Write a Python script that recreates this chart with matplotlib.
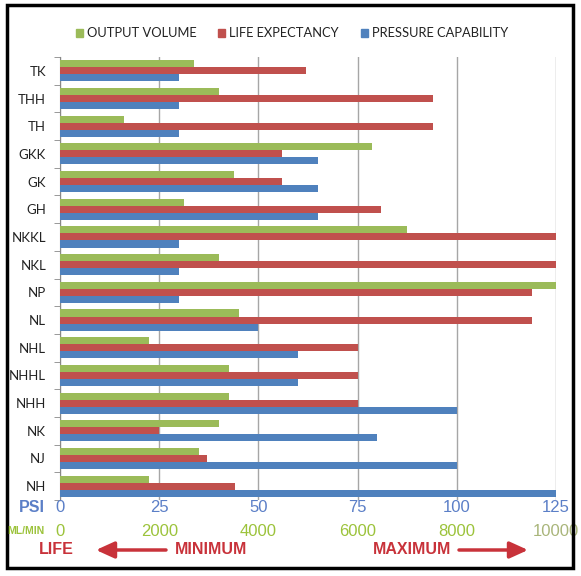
import matplotlib.pyplot as plt
from matplotlib.patches import Rectangle
from matplotlib.transforms import blended_transform_factory

# pump series, top to bottom as in the chart
categories = ['TK', 'THH', 'TH', 'GKK', 'GK', 'GH', 'NKKL', 'NKL',
              'NP', 'NL', 'NHL', 'NHHL', 'NHH', 'NK', 'NJ', 'NH']
pressure_psi = [30, 30, 30, 65, 65, 65, 30, 30, 30, 50, 60, 60, 100, 80, 100, 125]
life_score = [62, 94, 94, 56, 56, 81, 125, 125, 119, 119, 75, 75, 75, 25, 37, 44]
output_ml_min = [2700, 3200, 1300, 6300, 3500, 2500, 7000, 3200,
                 10000, 3600, 1800, 3400, 3400, 3200, 2800, 1800]

psi_ticks = [0, 25, 50, 75, 100, 125]
ml_ticks = [0, 2000, 4000, 6000, 8000, 10000]
legend_labels = ['OUTPUT VOLUME', 'LIFE EXPECTANCY', 'PRESSURE CAPABILITY']

GREEN = '#9BBB59'
RED = '#C0504D'
BLUE = '#4F81BD'
ML_PER_PSI = ml_ticks[-1] / psi_ticks[-1]

W, H = 581, 576
fig = plt.figure(figsize=(W / 100, H / 100), dpi=100)
ax = fig.add_axes([60 / W, 1 - 500 / H, 496 / W, 443 / H])

ypos = list(range(len(categories)))
bh = 0.255
out_scaled = [v / ML_PER_PSI for v in output_ml_min]
ax.barh([y - bh for y in ypos], out_scaled, height=bh, color=GREEN, zorder=3)
ax.barh(ypos, life_score, height=bh, color=RED, zorder=3)
ax.barh([y + bh for y in ypos], pressure_psi, height=bh, color=BLUE, zorder=3)

ax.set_xlim(0, 125)
ax.set_ylim(len(categories) - 0.5, -0.5)
ax.set_xticks(psi_ticks)
ax.tick_params(axis='x', length=0, labelbottom=False)
ax.xaxis.grid(True, color='#A6A6A6', linewidth=1)
ax.set_axisbelow(True)

sans = ['Lato', 'DejaVu Sans']
ax.set_yticks(ypos)
ax.set_yticklabels(categories, fontsize=9.5, family=sans, color='#222222')
ax.set_yticks([y - 0.5 for y in ypos] + [len(categories) - 0.5], minor=True)
ax.tick_params(axis='y', which='major', length=0, pad=10)
ax.tick_params(axis='y', which='minor', length=4, color='#888888')

for s in ['top', 'right', 'bottom']:
    ax.spines[s].set_visible(False)
ax.spines['left'].set_color('#888888')

narrow = ['Liberation Sans Narrow', 'Liberation Sans', 'DejaVu Sans']
tr = blended_transform_factory(ax.transData, ax.transAxes)
for p in psi_ticks:
    ax.text(p, -0.018, str(p), transform=tr, ha='center', va='center',
            color='#5B7FC7', fontsize=12, family=narrow)
for p, m in zip(psi_ticks, ml_ticks):
    c = '#A9B57A' if m == ml_ticks[-1] else '#9CC33B'
    ax.text(p, -0.070, str(m), transform=tr, ha='center', va='center',
            color=c, fontsize=12, family=narrow)

fig.text(45 / W, 1 - 508 / H, 'PSI', ha='right', va='center', color='#5B7FC7',
         fontsize=11.5, fontweight='bold', family=narrow)
fig.text(45 / W, 1 - 531 / H, 'ML/MIN', ha='right', va='center', color='#9CC33B',
         fontsize=7.5, fontweight='bold', family=narrow)

red_txt = '#C8323A'
fig.text(56 / W, 1 - 550 / H, 'LIFE', ha='center', va='center', color=red_txt,
         fontsize=11.5, fontweight='bold', family=narrow)
fig.text(211 / W, 1 - 550 / H, 'MINIMUM', ha='center', va='center', color=red_txt,
         fontsize=11.5, fontweight='bold', family=narrow)
fig.text(412 / W, 1 - 550 / H, 'MAXIMUM', ha='center', va='center', color=red_txt,
         fontsize=11.5, fontweight='bold', family=narrow)
arrow = dict(arrowstyle='-|>,head_length=1.1,head_width=0.5', color=red_txt,
             lw=2.5, shrinkA=0, shrinkB=0)
ax.annotate('', xy=(96, H - 550), xytext=(166, H - 550),
            xycoords='figure pixels', textcoords='figure pixels', arrowprops=arrow)
ax.annotate('', xy=(528, H - 550), xytext=(459, H - 550),
            xycoords='figure pixels', textcoords='figure pixels', arrowprops=arrow)

# legend drawn by hand so it sits like the original
leg_x = [76, 218, 361]
for x, lab, col in zip(leg_x, legend_labels, [GREEN, RED, BLUE]):
    fig.add_artist(Rectangle((x / W, 1 - 36.5 / H), 7 / W, 7 / H,
                             transform=fig.transFigure, color=col))
    fig.text((x + 11) / W, 1 - 33 / H, lab, ha='left', va='center',
             fontsize=9.3, family=sans, color='#222222')

fig.add_artist(Rectangle((7 / W, 1 - 568 / H), 566 / W, 563 / H,
                         transform=fig.transFigure, fill=False, lw=2.5, ec='black'))

fig.savefig('out.png', dpi=100)
